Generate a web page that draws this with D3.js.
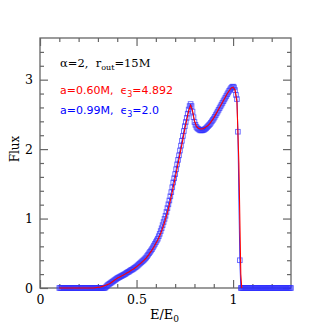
<!DOCTYPE html>
<html>
<head>
<meta charset="utf-8">
<script src="https://cdn.jsdelivr.net/npm/d3@7"></script>
<style>
  body { margin: 0; background: #fff; }
  .tick text { font-family: "DejaVu Serif", "Liberation Serif", serif; font-size: 12.5px; fill: #000; }
</style>
</head>
<body>
<svg width="328" height="328"></svg>
<script>
// a=0.99M, eps3=2.0 : [E/E0, flux] (blue squares)
var bluePoints = [
  [0.100,0],[0.105,0],[0.110,0],[0.115,0],[0.120,0],[0.125,0],[0.130,0],[0.135,0],[0.140,0],[0.145,0],
  [0.150,0],[0.155,0],[0.160,0],[0.165,0],[0.170,0],[0.175,0],[0.180,0],[0.185,0],[0.190,0],[0.195,0],
  [0.200,0],[0.205,0],[0.210,0],[0.215,0],[0.220,0],[0.225,0],[0.230,0],[0.235,0],[0.240,0],[0.245,0],
  [0.250,0],[0.255,0],[0.260,0],[0.265,0],[0.270,0],[0.275,0],[0.280,0],[0.285,0],[0.290,0],[0.295,0],
  [0.300,0],[0.305,0],[0.310,0],[0.315,0],[0.320,0],[0.325,0],[0.330,0],[0.335,0],
  [0.340,0.01],[0.345,0.025],[0.350,0.04],[0.355,0.05],[0.360,0.06],[0.365,0.07],[0.370,0.08],[0.375,0.09],
  [0.380,0.10],[0.385,0.11],[0.390,0.12],[0.395,0.13],[0.400,0.14],[0.405,0.148],[0.410,0.155],[0.415,0.163],
  [0.420,0.17],[0.425,0.178],[0.430,0.185],[0.435,0.193],[0.440,0.20],[0.445,0.21],[0.450,0.22],[0.455,0.228],
  [0.460,0.235],[0.465,0.245],[0.470,0.255],[0.475,0.262],[0.480,0.27],[0.485,0.28],[0.490,0.29],[0.495,0.30],
  [0.500,0.31],[0.505,0.322],[0.510,0.335],[0.515,0.348],[0.520,0.36],[0.525,0.372],[0.530,0.385],[0.535,0.397],
  [0.540,0.41],[0.545,0.425],[0.550,0.44],[0.555,0.46],[0.560,0.48],[0.565,0.50],[0.570,0.52],[0.575,0.54],
  [0.580,0.56],[0.585,0.585],[0.590,0.61],[0.595,0.635],[0.600,0.66],[0.605,0.685],[0.610,0.71],[0.615,0.745],
  [0.620,0.78],[0.625,0.82],[0.630,0.86],[0.635,0.905],[0.640,0.95],[0.645,0.995],[0.650,1.04],[0.655,1.095],
  [0.660,1.15],[0.665,1.205],[0.670,1.26],[0.675,1.32],[0.680,1.38],[0.685,1.45],[0.690,1.52],[0.695,1.58],
  [0.700,1.64],[0.705,1.71],[0.710,1.78],[0.715,1.845],[0.720,1.91],[0.725,1.98],[0.730,2.05],[0.735,2.12],
  [0.740,2.19],[0.745,2.26],[0.750,2.33],[0.755,2.39],[0.760,2.45],[0.765,2.51],[0.770,2.57],[0.775,2.62],
  [0.780,2.65],[0.785,2.62],[0.790,2.54],[0.795,2.46],[0.800,2.39],[0.805,2.35],[0.810,2.32],[0.815,2.30],
  [0.820,2.29],[0.825,2.28],[0.830,2.27],[0.835,2.27],[0.840,2.27],[0.845,2.275],[0.850,2.28],[0.855,2.29],
  [0.860,2.30],[0.865,2.315],[0.870,2.33],[0.875,2.345],[0.880,2.36],[0.885,2.38],[0.890,2.40],[0.895,2.42],
  [0.900,2.44],[0.905,2.465],[0.910,2.49],[0.915,2.515],[0.920,2.54],[0.925,2.565],[0.930,2.59],[0.935,2.615],
  [0.940,2.64],[0.945,2.665],[0.950,2.69],[0.955,2.715],[0.960,2.74],[0.965,2.765],[0.970,2.79],[0.975,2.815],
  [0.980,2.84],[0.985,2.86],[0.990,2.88],[0.995,2.895],[1.000,2.90],[1.005,2.89],[1.010,2.85],[1.015,2.78],
  [1.020,2.72],[1.025,2.25],[1.035,0.40],
  [1.040,0],[1.045,0],[1.050,0],[1.055,0],[1.060,0],[1.065,0],[1.070,0],[1.075,0],[1.080,0],[1.085,0],
  [1.090,0],[1.095,0],[1.100,0],[1.105,0],[1.110,0],[1.115,0],[1.120,0],[1.125,0],[1.130,0],[1.135,0],
  [1.140,0],[1.145,0],[1.150,0],[1.155,0],[1.160,0],[1.165,0],[1.170,0],[1.175,0],[1.180,0],[1.185,0],
  [1.190,0],[1.195,0],[1.200,0],[1.205,0],[1.210,0],[1.215,0],[1.220,0],[1.225,0],[1.230,0],[1.235,0],
  [1.240,0],[1.245,0],[1.250,0],[1.255,0],[1.260,0],[1.265,0],[1.270,0],[1.275,0],[1.280,0],[1.285,0],
  [1.290,0],[1.295,0],[1.300,0]
];

// a=0.60M, eps3=4.892 : [E/E0, flux] (red line)
var redPoints = [
  [0.10,0],[0.15,0],[0.20,0],[0.25,0],[0.28,0],[0.30,0.01],[0.31,0.01],[0.32,0.02],[0.33,0.03],[0.34,0.04],
  [0.35,0.05],[0.36,0.06],[0.37,0.08],[0.38,0.10],[0.39,0.12],[0.40,0.14],[0.41,0.155],[0.42,0.17],[0.43,0.185],
  [0.44,0.20],[0.45,0.215],[0.46,0.23],[0.47,0.25],[0.48,0.265],[0.49,0.285],[0.50,0.305],[0.51,0.33],
  [0.52,0.35],[0.53,0.375],[0.54,0.40],[0.55,0.43],[0.56,0.465],[0.57,0.505],[0.58,0.545],[0.59,0.59],
  [0.60,0.64],[0.61,0.69],[0.62,0.75],[0.63,0.82],[0.64,0.90],[0.65,0.99],[0.66,1.09],[0.67,1.20],
  [0.68,1.32],[0.69,1.45],[0.70,1.58],[0.71,1.72],[0.72,1.86],[0.73,2.00],[0.74,2.14],[0.75,2.29],
  [0.76,2.42],[0.77,2.55],[0.78,2.63],[0.79,2.55],[0.80,2.41],[0.81,2.33],[0.82,2.30],[0.83,2.29],
  [0.84,2.29],[0.85,2.30],[0.86,2.32],[0.87,2.34],[0.88,2.37],[0.89,2.41],[0.90,2.45],[0.91,2.50],
  [0.92,2.55],[0.93,2.60],[0.94,2.65],[0.95,2.70],[0.96,2.75],[0.97,2.80],[0.98,2.84],[0.99,2.88],
  [1.00,2.89],[1.01,2.85],[1.02,2.68],[1.03,1.80],[1.04,0.20],[1.045,0]
];

var xMajorTicks = [0, 0.5, 1];
var xMajorLabels = ["0", "0.5", "1"];
var xMinorTicks = [0.1, 0.2, 0.3, 0.4, 0.6, 0.7, 0.8, 0.9, 1.1, 1.2];
var yMajorTicks = [0, 1, 2, 3];
var yMinorTicks = [0.2, 0.4, 0.6, 0.8, 1.2, 1.4, 1.6, 1.8, 2.2, 2.4, 2.6, 2.8, 3.2, 3.4];

var svg = d3.select("svg"),
    margin = {top: 38, right: 37, bottom: 40, left: 40},
    width = +svg.attr("width") - margin.left - margin.right,
    height = +svg.attr("height") - margin.top - margin.bottom;

var x = d3.scaleLinear().domain([0, 1.3]).range([0, width]);
var y = d3.scaleLinear().domain([0, 3.6]).range([height, 0]);

var g = svg.append("g")
    .attr("transform", "translate(" + margin.left + "," + margin.top + ")");

// ticks point inward, so padding is measured from the frame
function tickAxis(axis, vals, size, fmt) {
  return axis.tickValues(vals).tickSizeInner(-size).tickSizeOuter(0).tickPadding(7)
    .tickFormat(fmt || "");
}

// bottom
g.append("g").attr("transform", "translate(0," + height + ")")
    .call(tickAxis(d3.axisBottom(x), xMajorTicks, 8, function(d, i) { return xMajorLabels[i]; }));
g.append("g").attr("transform", "translate(0," + height + ")")
    .call(tickAxis(d3.axisBottom(x), xMinorTicks, 4));
// top
g.append("g").call(tickAxis(d3.axisTop(x), xMajorTicks, 8));
g.append("g").call(tickAxis(d3.axisTop(x), xMinorTicks, 4));
// left
g.append("g").call(tickAxis(d3.axisLeft(y), yMajorTicks, 8, d3.format("d")));
g.append("g").call(tickAxis(d3.axisLeft(y), yMinorTicks, 4));
// right
g.append("g").attr("transform", "translate(" + width + ",0)")
    .call(tickAxis(d3.axisRight(y), yMajorTicks, 8));
g.append("g").attr("transform", "translate(" + width + ",0)")
    .call(tickAxis(d3.axisRight(y), yMinorTicks, 4));

g.selectAll(".domain").remove();
g.selectAll(".tick line").attr("stroke", "#666").attr("stroke-width", 1.2);

// frame
g.append("rect")
    .attr("width", width).attr("height", height)
    .attr("fill", "none").attr("stroke", "#666").attr("stroke-width", 1.3);

var line = d3.line()
    .x(function(d) { return x(d[0]); })
    .y(function(d) { return y(d[1]); });

// blue series: thin line + open squares
g.append("path").datum(bluePoints)
    .attr("d", line).attr("fill", "none").attr("stroke", "#0000ff").attr("stroke-width", 0.8);

g.selectAll(".sq").data(bluePoints).enter().append("rect")
    .attr("class", "sq")
    .attr("x", function(d) { return x(d[0]) - 2.3; })
    .attr("y", function(d) { return y(d[1]) - 2.3; })
    .attr("width", 4.6).attr("height", 4.6)
    .attr("fill", "none").attr("stroke", "#3030ff").attr("stroke-opacity", 0.7).attr("stroke-width", 1);

// red series on top
g.append("path").datum(redPoints)
    .attr("d", line).attr("fill", "none").attr("stroke", "#ff0000").attr("stroke-width", 1.1);

// axis titles
svg.append("text")
    .attr("x", 150).attr("y", 319)
    .style("font-family", "DejaVu Serif, serif").style("font-size", "13px")
    .text("E/E")
  .append("tspan").attr("dy", 3).style("font-size", "9px").text("0");

svg.append("text")
    .attr("transform", "translate(19,149) rotate(-90)")
    .attr("text-anchor", "middle")
    .style("font-family", "DejaVu Serif, serif").style("font-size", "12px")
    .text("Flux");

// annotations
var t1 = svg.append("text").attr("x", 60).attr("y", 67)
    .style("font-family", "DejaVu Serif, serif").style("font-size", "11.5px")
    .style("white-space", "pre").attr("fill", "#000");
t1.append("tspan").text("\u03b1=2,  r");
t1.append("tspan").attr("dy", 3).style("font-size", "8px").text("out");
t1.append("tspan").attr("dy", -3).text("=15M");

var t2 = svg.append("text").attr("x", 60).attr("y", 94)
    .style("font-family", "DejaVu Sans, sans-serif").style("font-size", "11px")
    .style("white-space", "pre").attr("fill", "#ff0000");
t2.append("tspan").text("a=0.60M,  \u03f5");
t2.append("tspan").attr("dy", 3).style("font-size", "8px").text("3");
t2.append("tspan").attr("dy", -3).text("=4.892");

var t3 = svg.append("text").attr("x", 60).attr("y", 114)
    .style("font-family", "DejaVu Sans, sans-serif").style("font-size", "11px")
    .style("white-space", "pre").attr("fill", "#0000ff");
t3.append("tspan").text("a=0.99M,  \u03f5");
t3.append("tspan").attr("dy", 3).style("font-size", "8px").text("3");
t3.append("tspan").attr("dy", -3).text("=2.0");
</script>
</body>
</html>
